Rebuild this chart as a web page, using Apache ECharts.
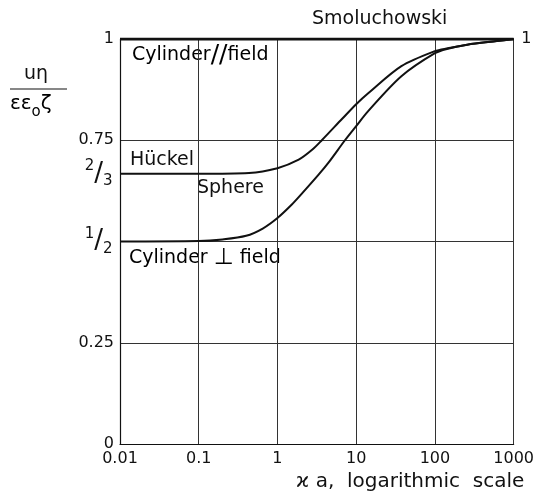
<!DOCTYPE html>
<html>
<head>
<meta charset="utf-8">
<script src="https://cdn.jsdelivr.net/npm/echarts@6/dist/echarts.min.js"></script>
<style>
  html, body { margin: 0; padding: 0; background: #fff; }
  #chart { width: 537px; height: 497px; }
</style>
</head>
<body>
<div id="chart"></div>
<script>
// x ticks (kappa a, log scale) and y ticks
const xTickLabels = ['0.01', '0.1', '1', '10', '100', '1000'];
const yTickValues = [0, 0.25, 0.5, 0.75, 1];
const yTickLabels = ['0', '0.25', '', '0.75', '1'];

// Hückel -> Smoluchowski (sphere)
const sphereKa = [0.01, 0.1, 0.435, 1, 1.86, 2.78, 3.66, 6.64, 10, 14.2, 37.5, 100, 146, 257, 611, 1000];
const sphereF  = [0.667, 0.667, 0.669, 0.681, 0.702, 0.727, 0.75, 0.803, 0.839, 0.866, 0.933, 0.970, 0.977, 0.986, 0.995, 1.0];

// cylinder perpendicular to field
const perpKa = [0.01, 0.1, 0.2, 0.4, 0.65, 1, 1.5, 2.08, 3.33, 4.5, 7.2, 10, 14.2, 37.5, 100, 146, 257, 611, 1000];
const perpF  = [0.5, 0.501, 0.505, 0.514, 0.532, 0.558, 0.59, 0.62, 0.665, 0.696, 0.75, 0.785, 0.822, 0.908, 0.965, 0.976, 0.986, 0.995, 1.0];

// cylinder parallel to field
const parallelKa = [0.01, 1000];
const parallelF  = [1, 1];

const FONT = 'DejaVu Sans';
const INK = '#111';

function zip(xs, ys) {
  return xs.map((x, i) => [x, ys[i]]);
}

const fracRich = {
  n: { fontSize: 15, fontFamily: FONT, color: INK, verticalAlign: 'top', lineHeight: 30 },
  s: { fontSize: 26, fontFamily: FONT, color: INK, lineHeight: 30 },
  d: { fontSize: 15, fontFamily: FONT, color: INK, verticalAlign: 'bottom', lineHeight: 30 }
};

function edgeLabel(coord, text, position) {
  return {
    symbol: 'circle',
    symbolSize: 1,
    itemStyle: { color: 'rgba(0,0,0,0)' },
    label: {
      show: true,
      position: position,
      distance: 7,
      formatter: text,
      rich: fracRich,
      fontFamily: FONT,
      fontSize: 16,
      color: INK
    },
    data: [{ coord: coord }]
  };
}

const chart = echarts.init(document.getElementById('chart'));

const option = {
  backgroundColor: '#fff',
  animation: false,
  grid: { left: 120, right: 20, top: 39, bottom: 53 },
  xAxis: {
    type: 'log',
    logBase: 10,
    min: 0.01,
    max: 1000,
    axisLine: { show: true, lineStyle: { color: INK, width: 1.2 } },
    axisTick: { show: false },
    minorTick: { show: false },
    splitLine: { show: true, lineStyle: { color: '#333', width: 1 } },
    axisLabel: {
      margin: 7,
      fontFamily: FONT,
      fontSize: 16,
      color: INK,
      formatter: function (v) {
        return xTickLabels[Math.round(Math.log10(v)) + 2] || '';
      }
    }
  },
  yAxis: {
    type: 'value',
    min: 0,
    max: 1,
    interval: 0.25,
    axisLine: { show: true, lineStyle: { color: INK, width: 1.2 } },
    axisTick: { show: false },
    splitLine: { show: true, lineStyle: { color: '#333', width: 1 } },
    axisLabel: {
      margin: 6,
      fontFamily: FONT,
      fontSize: 16,
      color: INK,
      formatter: function (v) {
        const i = yTickValues.findIndex(t => Math.abs(t - v) < 1e-6);
        return i >= 0 ? yTickLabels[i] : '';
      }
    }
  },
  series: [
    {
      name: 'Cylinder // field',
      type: 'line',
      data: zip(parallelKa, parallelF),
      symbol: 'none',
      lineStyle: { color: INK, width: 3 },
      markPoint: edgeLabel([1000, 1], '1', 'right')
    },
    {
      name: 'Sphere',
      type: 'line',
      data: zip(sphereKa, sphereF),
      smooth: 0.3,
      symbol: 'none',
      lineStyle: { color: INK, width: 2 },
      markPoint: edgeLabel([0.01, 2 / 3], '{n|2}{s|/}{d|3}', 'left')
    },
    {
      name: 'Cylinder ⊥ field',
      type: 'line',
      data: zip(perpKa, perpF),
      smooth: 0.3,
      symbol: 'none',
      lineStyle: { color: INK, width: 2 },
      markPoint: edgeLabel([0.01, 0.5], '{n|1}{s|/}{d|2}', 'left')
    }
  ],
  graphic: [
    // y axis quantity as a fraction
    {
      type: 'text', left: 24, top: 65,
      style: { text: 'uη', font: '19px "DejaVu Sans"', fill: INK }
    },
    {
      type: 'line', shape: { x1: 10, y1: 89, x2: 67, y2: 89 },
      style: { stroke: INK, lineWidth: 1.2 }
    },
    {
      type: 'text', left: 10, top: 94,
      style: {
        text: '{a|εε}{o|o}{a|ζ}',
        rich: {
          a: { fontSize: 20, fontFamily: FONT, color: INK, lineHeight: 26, verticalAlign: 'top' },
          o: { fontSize: 15, fontFamily: FONT, color: INK, lineHeight: 26, verticalAlign: 'bottom' }
        }
      }
    },
    {
      type: 'text', left: 312, top: 10,
      style: { text: 'Smoluchowski', font: '19px "DejaVu Sans"', fill: INK }
    },
    {
      type: 'text', left: 132, top: 43,
      style: {
        text: '{a|Cylinder}{b|//}{a|field}',
        rich: {
          a: { fontSize: 19, fontFamily: FONT, color: INK },
          b: { fontSize: 25, fontFamily: FONT, color: INK }
        }
      }
    },
    {
      type: 'text', left: 130, top: 151,
      style: { text: 'Hückel', font: '19px "DejaVu Sans"', fill: INK }
    },
    {
      type: 'text', left: 197, top: 179,
      style: { text: 'Sphere', font: '19px "DejaVu Sans"', fill: INK }
    },
    {
      type: 'text', left: 129, top: 247,
      style: {
        text: '{a|Cylinder }{b|⊥}{a| field}',
        rich: {
          a: { fontSize: 19, fontFamily: FONT, color: INK },
          b: { fontSize: 23, fontFamily: FONT, color: INK }
        }
      }
    },
    {
      type: 'text', left: 296, top: 472,
      style: { text: 'ϰ a,  logarithmic  scale', font: '20px "DejaVu Sans"', fill: INK }
    }
  ]
};

chart.setOption(option);
</script>
</body>
</html>
